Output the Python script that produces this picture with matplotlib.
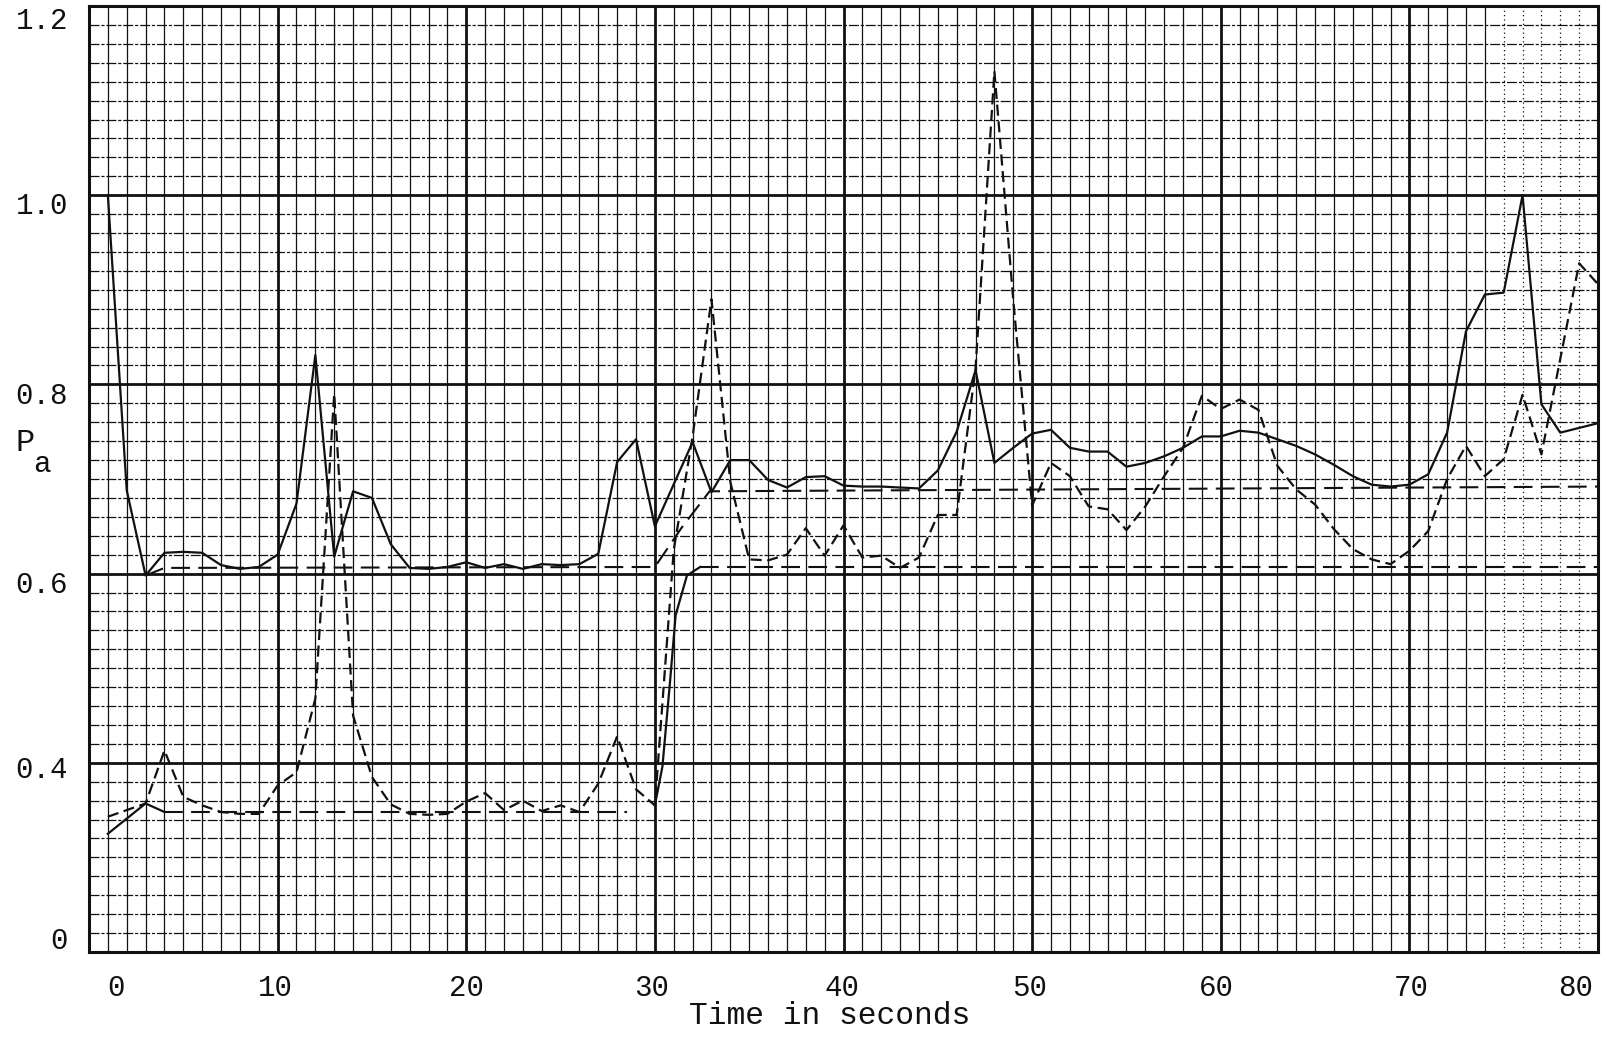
import numpy as np
import matplotlib
matplotlib.use("Agg")
import matplotlib.pyplot as plt
from matplotlib.transforms import ScaledTranslation

# ---------------- data ----------------
# solid curve
a_t = [1, 2, 3, 4, 5, 6, 7, 8, 9, 10, 11, 12, 13, 14, 15, 16, 17, 18, 19, 20,
       21, 22, 23, 24, 25, 26, 27, 28, 29, 30, 32, 33, 34, 35, 36, 37, 38, 39, 40,
       41, 42, 43, 44, 45, 46, 47, 48, 49, 50, 51, 52, 53, 54, 55, 56, 57, 58, 59, 60,
       61, 62, 63, 64, 65, 66, 67, 68, 69, 70, 71, 72, 73, 74, 75, 76, 77, 78, 80]
a_v = [1.000, 0.688, 0.598, 0.622, 0.623, 0.622, 0.609, 0.605, 0.607, 0.620,
       0.674, 0.831, 0.618, 0.687, 0.680, 0.631, 0.606, 0.605, 0.607, 0.612,
       0.606, 0.610, 0.605, 0.610, 0.609, 0.610, 0.621, 0.718, 0.742, 0.650,
       0.739, 0.686, 0.720, 0.720, 0.699, 0.691, 0.702, 0.703, 0.693,
       0.692, 0.692, 0.691, 0.690, 0.709, 0.750, 0.815, 0.717, 0.733, 0.748,
       0.752, 0.733, 0.729, 0.729, 0.713, 0.717, 0.724, 0.733, 0.745, 0.745,
       0.751, 0.749, 0.742, 0.735, 0.726, 0.715, 0.703, 0.694, 0.692, 0.694,
       0.705, 0.749, 0.856, 0.895, 0.897, 1.000, 0.779, 0.749, 0.759]

# dashed curve
b_t = [1, 3, 4, 5, 6, 7, 8, 9, 10, 11, 12, 13, 14, 15, 16, 17, 18, 19, 20,
       21, 22, 23, 24, 25, 26, 27, 28, 29, 30, 31, 32, 33, 34, 35, 36, 37, 38, 39, 40,
       41, 42, 43, 44, 45, 46, 47, 48, 49, 50, 51, 52, 53, 54, 55, 56, 57, 58, 59, 60,
       61, 62, 63, 64, 65, 66, 67, 68, 69, 70, 71, 72, 73, 74, 75, 76, 77, 79, 80]
b_v = [0.343, 0.357, 0.413, 0.364, 0.355, 0.348, 0.346, 0.346, 0.376, 0.390,
       0.468, 0.790, 0.450, 0.385, 0.356, 0.346, 0.345, 0.346, 0.359,
       0.368, 0.350, 0.360, 0.349, 0.355, 0.348, 0.378, 0.428, 0.372, 0.355,
       0.625, 0.745, 0.890, 0.697, 0.615, 0.614, 0.620, 0.648, 0.619, 0.651,
       0.617, 0.619, 0.606, 0.617, 0.662, 0.662, 0.817, 1.131, 0.889, 0.672,
       0.717, 0.703, 0.671, 0.668, 0.646, 0.671, 0.703, 0.733, 0.788, 0.774,
       0.784, 0.773, 0.714, 0.689, 0.673, 0.647, 0.626, 0.615, 0.610, 0.624,
       0.645, 0.700, 0.735, 0.703, 0.721, 0.789, 0.726, 0.928, 0.906]

# reference level of the solid curve (long dashes)
abase_t = [3, 4, 30, 31.4, 32.9, 80]
abase_v = [0.598, 0.606, 0.607, 0.648, 0.687, 0.692]

# reference level of the dashed curve (solid at the transitions, long dashes on the flats)
bbase_t = [1, 3, 4, 28.5, 30, 30.4, 30.8, 31.1, 31.4, 31.7, 32.4, 80]
bbase_v = [0.325, 0.357, 0.348, 0.348, 0.355, 0.396, 0.485, 0.556, 0.577, 0.598, 0.607, 0.607]

x_ticks = [0, 10, 20, 30, 40, 50, 60, 70, 80]
x_labels = ["0", "10", "20", "30", "40", "50", "60", "70", "80"]
y_ticks = [0.2, 0.4, 0.6, 0.8, 1.0, 1.2]
y_labels = ["0", "0.4", "0.6", "0.8", "1.0", "1.2"]

# ---------------- figure ----------------
plt.rcParams['font.family'] = ['Liberation Mono', 'DejaVu Sans Mono']
INK = '#111111'

fig = plt.figure(figsize=(16.09, 10.40), dpi=100)
L, R, B, T = 89 / 1609, 1598 / 1609, 1 - 952 / 1040, 1 - 6 / 1040
ax = fig.add_axes([L, B, R - L, T - B])
ax.set_xlim(0, 80)
ax.set_ylim(0.2, 1.2)

# graph paper
for t in range(1, 80):
    if t % 10:
        ax.axvline(t, color=INK, lw=0.9, ls='-' if t < 75 else (0, (1, 2.5)), zorder=1)
for k in range(11, 60):
    if k % 10:
        ax.axhline(k * 0.02, color=INK, lw=0.9, ls=(0, (8, 1.5, 2.5, 1.5)), zorder=1)
for t in range(10, 80, 10):
    ax.axvline(t, color=INK, lw=2.0, zorder=1)
for v in (0.4, 0.6, 0.8, 1.0):
    ax.axhline(v, color=INK, lw=2.0, zorder=1)
for s in ax.spines.values():
    s.set_linewidth(2.2)
    s.set_color(INK)

# curves
ax.plot(a_t, a_v, color=INK, lw=1.6, ls='-', zorder=4)
ax.plot(b_t, b_v, color=INK, lw=1.6, ls=(0, (5, 2.5)), zorder=4)
ax.plot(abase_t, abase_v, color=INK, lw=1.5, ls=(0, (9, 4)), zorder=3)
# reference level of dashed curve: split into solid / long-dash pieces
ax.plot(bbase_t[0:3], bbase_v[0:3], color=INK, lw=1.6, ls='-', zorder=3)
ax.plot(bbase_t[2:4], bbase_v[2:4], color=INK, lw=1.5, ls=(0, (9, 4)), zorder=3)
ax.plot(bbase_t[4:11], bbase_v[4:11], color=INK, lw=1.6, ls='-', zorder=3)
ax.plot(bbase_t[10:12], bbase_v[10:12], color=INK, lw=1.5, ls=(0, (9, 4)), zorder=3)

# ticks and labels
ax.set_xticks(x_ticks)
ax.set_xticklabels(x_labels, fontsize=21, color=INK)
ax.set_yticks(y_ticks)
ax.set_yticklabels(y_labels, fontsize=21, color=INK)
ax.tick_params(axis='x', length=0, pad=16)
ax.tick_params(axis='y', length=0, pad=15)

x_shift_px = [27, -2, 0, -3, -2, -2, -4, 2, -22]
y_shift_px = [14, -4, -8, -9, -8, -12]
for lab, dx in zip(ax.get_xticklabels(), x_shift_px):
    lab.set_transform(lab.get_transform() + ScaledTranslation(dx / 100, 0, fig.dpi_scale_trans))
for lab, dy in zip(ax.get_yticklabels(), y_shift_px):
    lab.set_transform(lab.get_transform() + ScaledTranslation(0, dy / 100, fig.dpi_scale_trans))

ax.set_xlabel("Time in seconds", fontsize=22.5, color=INK, va='baseline')
ax.xaxis.set_label_coords((830 - 89) / 1509, (952 - 1024) / 946)
ax.set_ylabel("P", fontsize=23, color=INK, rotation=0, va='center', ha='center')
ax.yaxis.set_label_coords((25 - 89) / 1509, (952 - 443) / 946)
ax.text((42 - 89) / 1509, (952 - 464) / 946, "a", transform=ax.transAxes,
        fontsize=21, color=INK, ha='center', va='center')

fig.savefig("out.png", dpi=100, facecolor='white')
